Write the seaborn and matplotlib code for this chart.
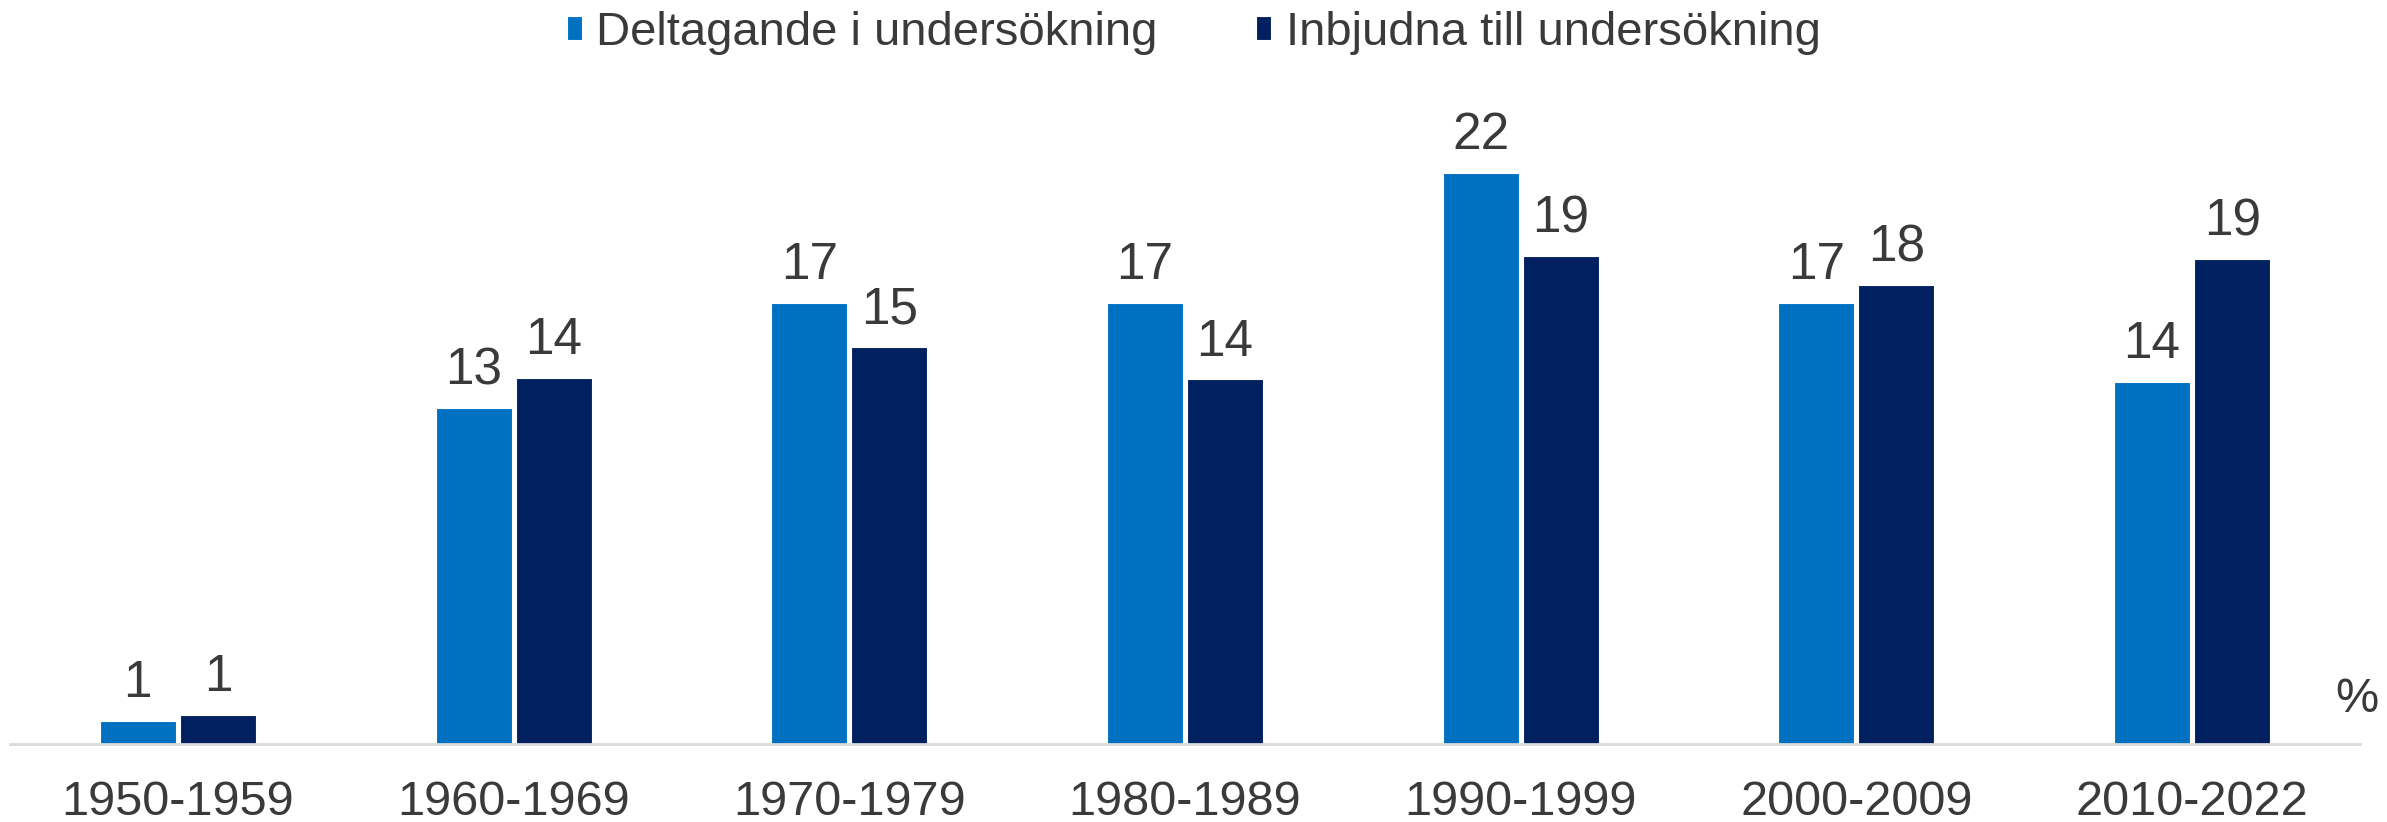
import matplotlib
matplotlib.use("Agg")
import matplotlib.pyplot as plt
import seaborn as sns
import pandas as pd

categories = ["1950-1959", "1960-1969", "1970-1979", "1980-1989", "1990-1999", "2000-2009", "2010-2022"]
series_names = ["Deltagande i undersökning", "Inbjudna till undersökning"]
deltagande = [0.9, 12.95, 17.0, 17.0, 22.0, 17.0, 13.95]
inbjudna = [1.13, 14.1, 15.3, 14.05, 18.8, 17.7, 18.7]
colors = ["#0070C0", "#002060"]

df = pd.DataFrame({
    "period": categories * 2,
    "serie": [series_names[0]] * len(categories) + [series_names[1]] * len(categories),
    "value": deltagande + inbjudna,
})

sns.set_theme(style="white")
plt.rcParams["font.family"] = ["Liberation Sans", "DejaVu Sans"]
text_color = "#3a3a3a"

fig = plt.figure(figsize=(23.87, 8.22), dpi=100)
ax = fig.add_axes([10 / 2387, 1 - 744 / 822, 2350 / 2387, (744 - 95) / 822])

sns.barplot(data=df, x="period", y="value", hue="serie", order=categories,
            hue_order=series_names, palette=colors, saturation=1, width=0.477, gap=0.05,
            edgecolor="white", linewidth=0.8, ax=ax, legend=True)

ax.set_xlim(-0.5, 6.5)
ax.set_ylim(0, 25)
for c in ax.containers:
    ax.bar_label(c, labels=[f"{v:.0f}" for v in c.datavalues], padding=9,
                 fontsize=37, color=text_color)

for s in ["top", "right", "left"]:
    ax.spines[s].set_visible(False)
ax.spines["bottom"].set_color("#D9D9D9")
ax.spines["bottom"].set_linewidth(2)
ax.set_yticks([])
ax.set_xlabel("")
ax.set_ylabel("")
ax.tick_params(axis="x", length=0, pad=26, labelsize=35, labelcolor=text_color)

ax.text(2357 / 2387, 1 - 700 / 822, "%", transform=fig.transFigure, ha="center",
        va="center", fontsize=35, color=text_color)

handles, labels = ax.get_legend_handles_labels()
ax.legend(handles, labels, loc="center", bbox_to_anchor=(0.5, 1 - 33 / 822),
          bbox_transform=fig.transFigure, ncol=2, frameon=False, fontsize=34,
          handlelength=0.32, handleheight=0.4, handletextpad=0.3, columnspacing=2.1,
          labelcolor=text_color)

fig.savefig("out.png", dpi=100)
